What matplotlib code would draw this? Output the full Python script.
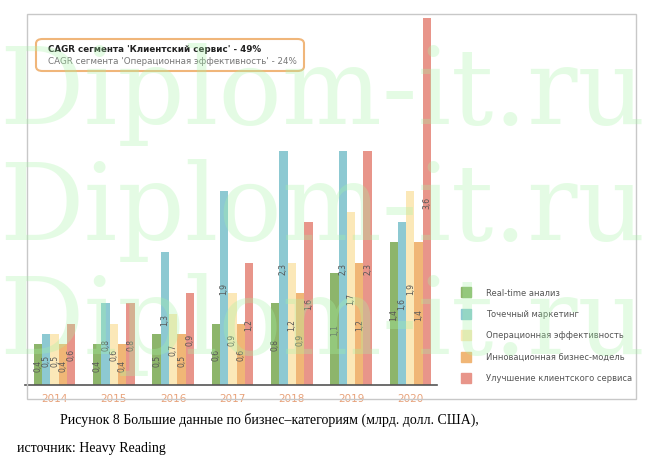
import matplotlib
matplotlib.use("Agg")
import matplotlib.pyplot as plt
import numpy as np
from matplotlib.patches import FancyBboxPatch, Rectangle

years = ["2014", "2015", "2016", "2017", "2018", "2019", "2020"]
series_names = ["Real-time анализ", "Точечный маркетинг", "Операционная эффективность",
                "Инновационная бизнес-модель", "Улучшение клиентского сервиса"]
realtime = [0.4, 0.4, 0.5, 0.6, 0.8, 1.1, 1.4]
marketing = [0.5, 0.8, 1.3, 1.9, 2.3, 2.3, 1.6]
operational = [0.5, 0.6, 0.7, 0.9, 1.2, 1.7, 1.9]
innovation = [0.4, 0.4, 0.5, 0.6, 0.9, 1.2, 1.4]
service = [0.6, 0.8, 0.9, 1.2, 1.6, 2.3, 3.6]
series = [realtime, marketing, operational, innovation, service]
colors = ["#8db56b", "#8dc9d2", "#fbe8b8", "#f0b676", "#e8958a"]

fig = plt.figure(figsize=(6.56, 4.6), dpi=100)
fig.patches.append(Rectangle((27/656, 1-400/460), 609/656, 385/460, transform=fig.transFigure,
                             fill=False, edgecolor="#c8c8c8", lw=1))
ax = fig.add_axes([25/656, 1-386/460, 412/656, 370/460])
x = np.arange(len(years))
w = 0.14
for i, (vals, c) in enumerate(zip(series, colors)):
    xs = x + (i-2)*w
    ax.bar(xs, vals, w, color=c, label=series_names[i])
    for xx, v in zip(xs, vals):
        ax.text(xx, v/2, f"{v:.1f}".replace(".", ","), rotation=90, ha="center", va="center",
                fontsize=5.5, color="#555555")
ax.set_ylim(0, 3.63)
ax.set_xlim(-0.5, 6.45)
ax.set_yticks([])
ax.set_xticks(x)
ax.set_xticklabels(years, color="#e8a27a", fontsize=7.5)
ax.tick_params(axis="x", length=0, pad=6)
for s in ["top", "right", "left"]:
    ax.spines[s].set_visible(False)
ax.spines["bottom"].set_color("#555555")
ax.spines["bottom"].set_linewidth(1.2)

fig.patches.append(FancyBboxPatch((36/656, 1-72/460), 268/656, 32/460, transform=fig.transFigure,
                                  boxstyle="round,pad=0,rounding_size=0.01", fill=False,
                                  edgecolor="#f0b67a", lw=1.5))
fig.text(48/656, 1-50/460, "CAGR сегмента 'Клиентский сервис' - 49%", fontsize=6.3,
         color="#222222", va="center", fontweight="bold")
fig.text(48/656, 1-62/460, "CAGR сегмента 'Операционная эффективность' - 24%", fontsize=6.3,
         color="#777777", va="center")

for i, (name, c) in enumerate(zip(series_names, colors)):
    yy = 1 - (293 + i*21.5)/460
    fig.patches.append(Rectangle((461/656, yy-5/460), 10/656, 10/460, transform=fig.transFigure,
                                 color=c))
    fig.text(486/656, yy, name, fontsize=6, color="#555555", va="center")

for yy in [95, 210, 325]:
    fig.text(322/656, 1-yy/460, "Diplom-it.ru", fontsize=76, family="DejaVu Serif",
             color="#a6f5a6", alpha=0.3, ha="center", va="center")

fig.text(60/656, 1-420/460, "Рисунок 8 Большие данные по бизнес–категориям (млрд. долл. США),",
         fontsize=10, family="Liberation Serif", va="center")
fig.text(17/656, 1-449/460, "источник: Heavy Reading", fontsize=10, family="Liberation Serif",
         va="center")

fig.savefig("out.png", dpi=100)
